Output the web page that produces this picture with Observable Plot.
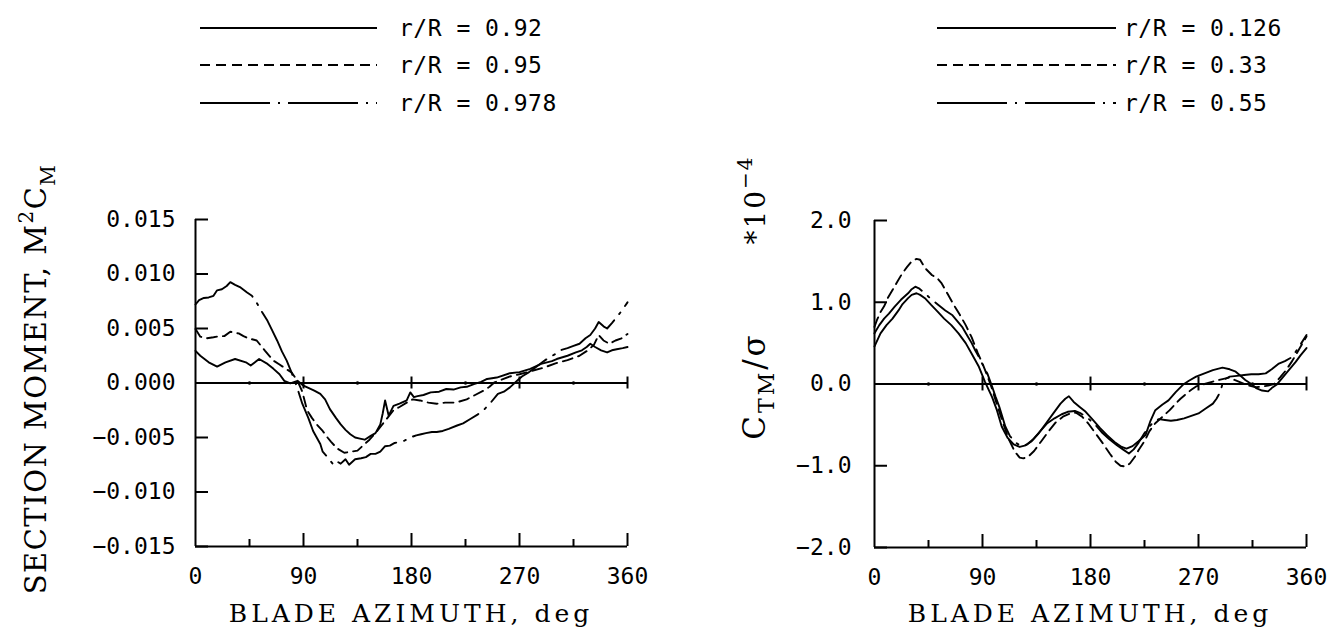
<!DOCTYPE html>
<html><head><meta charset="utf-8">
<script src="https://cdn.jsdelivr.net/npm/d3@7"></script>
<script src="https://cdn.jsdelivr.net/npm/@observablehq/plot@0.6"></script>
<style>
html,body{margin:0;padding:0;background:#fff;}
#wrap{display:flex;width:1332px;height:630px;overflow:hidden;}
.panel{width:666px;height:630px;}
svg{display:block;}
</style></head><body>
<div id="wrap"><div class="panel" id="left"></div><div class="panel" id="right"></div></div>
<script>
// ---------- DATA ----------
const xTickLabels = [0, 90, 180, 270, 360];
const xMajorTicks = [90, 180, 270, 360];
const xMinorTicks = [45, 135, 225, 315];
const zeroLineDots = [45, 135, 225, 315];

const leftYTicks = [-0.015, -0.010, -0.005, 0, 0.005, 0.010, 0.015];
const rightYTicks = [-2, -1, 0, 1, 2];

const leftLegend = ["r/R = 0.92", "r/R = 0.95", "r/R = 0.978"];
const rightLegend = ["r/R = 0.126", "r/R = 0.33", "r/R = 0.55"];

// Section moment M^2 Cm vs azimuth (deg)
const moment092 = [[0,2.95e-3],[4,2.5e-3],[11,1.9e-3],[18,1.5e-3],[25,1.9e-3],[33,2.2e-3],[42,1.9e-3],[46,1.6e-3],[53,2.2e-3],[60,1.75e-3],[65,1.3e-3],[70,0.8e-3],[74,0.2e-3],[79,-0.03e-3],[85,0.2e-3],[90,-0.25e-3],[99,-0.7e-3],[104,-1.0e-3],[108,-1.5e-3],[112,-2.4e-3],[117,-3.2e-3],[121,-3.8e-3],[125,-4.3e-3],[129,-4.7e-3],[133,-5.0e-3],[137,-5.1e-3],[141,-5.2e-3],[146,-4.85e-3],[150,-4.6e-3],[154,-3.8e-3],[156,-2.8e-3],[158,-1.6e-3],[161,-3.0e-3],[165,-2.1e-3],[170,-1.9e-3],[176,-1.6e-3],[179,-0.86e-3],[182,-1.3e-3],[185,-1.2e-3],[190,-1.1e-3],[196,-0.86e-3],[203,-0.8e-3],[209,-0.55e-3],[215,-0.6e-3],[221,-0.4e-3],[226,-0.35e-3],[232,-0.1e-3],[238,0.1e-3],[243,0.37e-3],[251,0.5e-3],[262,0.9e-3],[270,1.0e-3],[279,1.3e-3],[288,1.75e-3],[297,2.0e-3],[301,2.2e-3],[310,2.5e-3],[317,2.8e-3],[322,3.0e-3],[326,3.3e-3],[329,3.6e-3],[333,3.3e-3],[338,3.0e-3],[343,2.8e-3],[347,3.0e-3],[351,3.1e-3],[356,3.2e-3],[360,3.3e-3]];
const moment095 = [[0,4.95e-3],[4,4.25e-3],[9,4.1e-3],[15,4.2e-3],[20,4.3e-3],[24,4.3e-3],[29,4.7e-3],[33,4.6e-3],[36,4.55e-3],[40,4.3e-3],[44,4.1e-3],[51,3.9e-3],[58,2.95e-3],[65,2.05e-3],[70,1.7e-3],[74,1.4e-3],[80,0.97e-3],[85,0.2e-3],[89,-0.8e-3],[93,-2.5e-3],[97,-3.2e-3],[101,-3.8e-3],[106,-4.4e-3],[110,-5.0e-3],[113,-5.4e-3],[118,-6.0e-3],[124,-6.4e-3],[130,-6.3e-3],[135,-6.2e-3],[140,-5.7e-3],[145,-5.2e-3],[150,-4.6e-3],[155,-3.9e-3],[160,-3.2e-3],[165,-2.5e-3],[170,-2.2e-3],[176,-1.8e-3],[181,-1.5e-3],[187,-1.6e-3],[194,-1.8e-3],[201,-1.9e-3],[208,-1.8e-3],[215,-1.8e-3],[220,-1.7e-3],[226,-1.5e-3],[233,-1.1e-3],[240,-0.7e-3],[245,-0.35e-3],[249,0.05e-3],[255,0.3e-3],[262,0.6e-3],[270,0.8e-3],[280,1.1e-3],[290,1.4e-3],[300,1.8e-3],[310,2.1e-3],[320,2.5e-3],[327,3.0e-3],[332,3.5e-3],[336,4.4e-3],[340,3.9e-3],[345,3.6e-3],[350,3.9e-3],[355,4.1e-3],[360,4.5e-3]];
const moment0978 = [[0,7.2e-3],[3,7.6e-3],[7,7.8e-3],[11,7.85e-3],[15,8.0e-3],[18,8.5e-3],[22,8.6e-3],[26,8.9e-3],[29,9.25e-3],[33,9.0e-3],[37,8.8e-3],[43,8.3e-3],[47,8.0e-3],[50,7.55e-3],[55,6.6e-3],[60,5.7e-3],[64,4.8e-3],[68,3.9e-3],[72,2.9e-3],[76,2.05e-3],[80,0.97e-3],[84,-0.2e-3],[89,-1.9e-3],[94,-3.2e-3],[98,-4.4e-3],[104,-5.6e-3],[106,-6.3e-3],[110,-6.8e-3],[115,-7.5e-3],[118,-7.2e-3],[121,-7.4e-3],[125,-7.0e-3],[128,-7.5e-3],[133,-7.0e-3],[138,-6.9e-3],[142,-6.8e-3],[146,-6.5e-3],[150,-6.5e-3],[154,-6.3e-3],[158,-5.8e-3],[162,-5.75e-3],[166,-5.5e-3],[170,-5.4e-3],[174,-5.3e-3],[179,-5.0e-3],[184,-4.8e-3],[188,-4.7e-3],[192,-4.6e-3],[197,-4.5e-3],[201,-4.5e-3],[206,-4.4e-3],[211,-4.2e-3],[218,-3.9e-3],[223,-3.7e-3],[229,-3.3e-3],[235,-2.9e-3],[240,-2.5e-3],[246,-1.8e-3],[252,-1.0e-3],[257,-0.8e-3],[262,-0.4e-3],[268,0.2e-3],[272,0.6e-3],[278,1.0e-3],[283,1.4e-3],[289,1.9e-3],[294,2.3e-3],[299,2.6e-3],[304,3.0e-3],[310,3.2e-3],[315,3.4e-3],[320,3.6e-3],[325,4.1e-3],[329,4.4e-3],[333,5.0e-3],[336,5.6e-3],[340,5.2e-3],[343,5.0e-3],[347,5.5e-3],[350,5.9e-3],[355,6.6e-3],[360,7.4e-3]];

// CTM/sigma (x 1e-4) vs azimuth (deg)
const ctm0126 = [[0,0.46],[5,0.62],[10,0.72],[15,0.8],[20,0.9],[23,0.97],[28,1.05],[31,1.09],[35,1.11],[38,1.09],[42,1.05],[47,0.97],[53,0.88],[58,0.8],[64,0.72],[70,0.62],[76,0.5],[81,0.37],[87,0.21],[92,0.03],[98,-0.16],[102,-0.32],[106,-0.52],[111,-0.66],[116,-0.74],[121,-0.77],[126,-0.75],[131,-0.7],[137,-0.6],[143,-0.48],[149,-0.36],[155,-0.24],[159,-0.18],[162,-0.15],[166,-0.22],[171,-0.28],[176,-0.34],[182,-0.44],[188,-0.54],[194,-0.63],[200,-0.71],[206,-0.77],[210,-0.79],[215,-0.76],[220,-0.7],[226,-0.62],[230,-0.45],[234,-0.32],[240,-0.25],[245,-0.2],[251,-0.1],[257,-0.01],[262,0.04],[268,0.09],[275,0.13],[282,0.17],[290,0.2],[296,0.18],[301,0.15],[305,0.1],[309,0.05],[314,0.0],[318,-0.05],[323,-0.08],[328,-0.09],[331,-0.05],[335,-0.01],[339,0.06],[343,0.13],[347,0.2],[351,0.27],[355,0.35],[360,0.44]];
const ctm033 = [[0,0.7],[2,0.78],[5,0.88],[8,0.95],[11,1.05],[15,1.15],[19,1.25],[23,1.35],[27,1.43],[31,1.5],[35,1.53],[38,1.52],[42,1.42],[48,1.33],[52,1.3],[56,1.23],[61,1.1],[66,0.97],[71,0.85],[76,0.72],[81,0.57],[86,0.38],[90,0.25],[94,0.1],[98,-0.06],[102,-0.25],[107,-0.47],[112,-0.68],[117,-0.83],[121,-0.9],[124,-0.91],[128,-0.89],[133,-0.82],[139,-0.7],[145,-0.58],[151,-0.47],[157,-0.4],[163,-0.36],[168,-0.35],[173,-0.4],[178,-0.48],[184,-0.6],[190,-0.72],[196,-0.85],[201,-0.95],[205,-1.0],[209,-1.01],[213,-0.97],[217,-0.89],[220,-0.81],[225,-0.7],[229,-0.58],[234,-0.48],[240,-0.4],[246,-0.32],[251,-0.24],[255,-0.18],[259,-0.13],[264,-0.07],[268,-0.03],[275,0.0],[282,0.03],[290,0.06],[296,0.08],[300,0.05],[305,0.02],[312,-0.02],[318,-0.04],[323,-0.03],[328,-0.02],[333,0.0],[338,0.08],[343,0.17],[348,0.28],[352,0.38],[356,0.48],[360,0.58]];
const ctm055 = [[0,0.62],[4,0.72],[8,0.8],[12,0.86],[17,0.95],[22,1.03],[28,1.11],[31,1.16],[34,1.19],[37,1.17],[42,1.11],[47,1.04],[53,0.97],[59,0.9],[65,0.84],[69,0.77],[73,0.7],[77,0.6],[81,0.5],[84,0.41],[87,0.33],[90,0.24],[94,0.13],[98,-0.03],[101,-0.16],[104,-0.28],[109,-0.52],[113,-0.64],[118,-0.72],[122,-0.76],[127,-0.74],[132,-0.68],[138,-0.58],[144,-0.48],[150,-0.42],[156,-0.37],[161,-0.34],[167,-0.33],[172,-0.36],[178,-0.42],[184,-0.5],[190,-0.6],[196,-0.68],[202,-0.75],[207,-0.8],[212,-0.85],[216,-0.8],[220,-0.72],[225,-0.6],[229,-0.52],[233,-0.46],[237,-0.43],[242,-0.44],[247,-0.45],[252,-0.44],[258,-0.42],[264,-0.39],[270,-0.36],[276,-0.3],[282,-0.24],[285,-0.18],[288,-0.1],[291,0.05],[296,0.09],[302,0.1],[308,0.11],[314,0.12],[320,0.12],[326,0.13],[331,0.18],[337,0.25],[342,0.28],[348,0.33],[354,0.46],[360,0.6]];

// ---------- STYLE ----------
const DASH = ["none", "10,6", "70,8,2,8"];
const MONO = "'DejaVu Sans Mono', monospace";
const SERIF = "'DejaVu Serif', serif";

function legend(el, labels, x1, x2, tx) {
  const svg = d3.select(el).append("svg").attr("width", 666).attr("height", 150);
  const ys = [28, 65, 103];
  labels.forEach((lab, i) => {
    svg.append("line").attr("x1", x1).attr("x2", x2).attr("y1", ys[i]).attr("y2", ys[i])
      .attr("stroke", "black").attr("stroke-width", 2).attr("stroke-dasharray", DASH[i]);
    svg.append("text").attr("x", tx).attr("y", ys[i] + 8).text(lab)
      .style("font-family", MONO).style("font-size", "23px").style("letter-spacing", "0.5px").attr("fill", "black");
  });
}

function chart(el, o) {
  const W = 666, H = 480;
  const plotW = W - o.mLeft - o.mRight, plotH = H - o.mTop - o.mBottom;
  const lineOpts = (k) => ({x: d => d[0], y: d => d[1], stroke: "black", strokeWidth: 1.9, strokeDasharray: DASH[k], strokeLinejoin: "round"});
  const p = Plot.plot({
    width: W, height: H,
    marginLeft: o.mLeft, marginRight: o.mRight, marginTop: o.mTop, marginBottom: o.mBottom,
    style: {fontFamily: MONO, fontSize: "23px", background: "white", color: "black", overflow: "visible"},
    x: {domain: [0, 360]},
    y: {domain: o.yDomain},
    marks: [
      Plot.axisY(o.yTicks, {tickSize: 0, tickPadding: o.yPad, tickFormat: o.fmt, label: null, fontSize: 23}),
      Plot.axisX(xTickLabels, {tickSize: 0, tickPadding: 21, label: null, fontSize: 23}),
      Plot.ruleX([0], {strokeWidth: 2}),
      Plot.ruleY([o.yDomain[0]], {strokeWidth: 2}),
      Plot.ruleY([0], {strokeWidth: 2}),
      Plot.tickY(o.yTicks, {insetRight: plotW - 13, strokeWidth: 2}),
      Plot.tickX(xMajorTicks, {insetTop: plotH - 13, strokeWidth: 2}),
      Plot.tickX(xMinorTicks, {insetTop: plotH - 7, strokeWidth: 2}),
      Plot.ruleX(xMajorTicks, {y1: -o.cross, y2: o.cross, strokeWidth: 2}),
      Plot.dot(zeroLineDots, {x: d => d, y: 0, r: 1.8, fill: "black", stroke: null}),
      Plot.line(o.series[0], lineOpts(0)),
      Plot.line(o.series[1], lineOpts(1)),
      Plot.line(o.series[2], lineOpts(2))
    ]
  });
  const svg = d3.select(p);
  svg.append("text").attr("x", o.mLeft + plotW / 2).attr("y", 472).attr("text-anchor", "middle")
    .text("BLADE AZIMUTH, deg").style("font-family", SERIF).style("font-size", "25px")
    .style("letter-spacing", "4px").attr("fill", "black");
  o.ytitles.forEach(t => {
    const tx = svg.append("text").attr("transform", `translate(${t.x},${t.y}) rotate(-90)`)
      .attr("text-anchor", "middle").style("font-family", SERIF).style("font-size", t.size + "px")
      .style("letter-spacing", t.ls + "px").attr("fill", "black");
    let shift = 0;
    t.parts.forEach(part => {
      const want = part.sup ? -Math.round(t.size * 0.45) : part.sub ? Math.round(t.size * 0.3) : 0;
      const ts = tx.append("tspan").text(part.s).attr("dy", want - shift);
      if (part.sup || part.sub) ts.style("font-size", Math.round(t.size * 0.7) + "px");
      shift = want;
    });
  });
  el.appendChild(p);
}

const leftEl = document.getElementById("left");
const rightEl = document.getElementById("right");
legend(leftEl, leftLegend, 200, 377, 399);
legend(rightEl, rightLegend, 271, 450, 458);

chart(leftEl, {
  mLeft: 195, mRight: 39, mTop: 69, mBottom: 84,
  yDomain: [-0.015, 0.015], yTicks: leftYTicks, fmt: d3.format(".3f"), yPad: 20,
  cross: 0.00055,
  series: [moment092, moment095, moment0978],
  ytitles: [{x: 46, y: 229, size: 29, ls: 1.5, parts: [{s: "SECTION MOMENT, M"}, {s: "2", sup: true}, {s: "C"}, {s: "M", sub: true}]}]
});
chart(rightEl, {
  mLeft: 208, mRight: 26, mTop: 70, mBottom: 83,
  yDomain: [-2, 2], yTicks: rightYTicks, fmt: d3.format(".1f"), yPad: 23,
  cross: 0.085,
  series: [ctm0126, ctm033, ctm055],
  ytitles: [
    {x: 99, y: 236, size: 31, ls: 3, parts: [{s: "C"}, {s: "TM", sub: true}, {s: "/σ"}]},
    {x: 99, y: 50, size: 28, ls: 2, parts: [{s: "*10"}, {s: "−4", sup: true}]}
  ]
});
</script>
</body></html>
